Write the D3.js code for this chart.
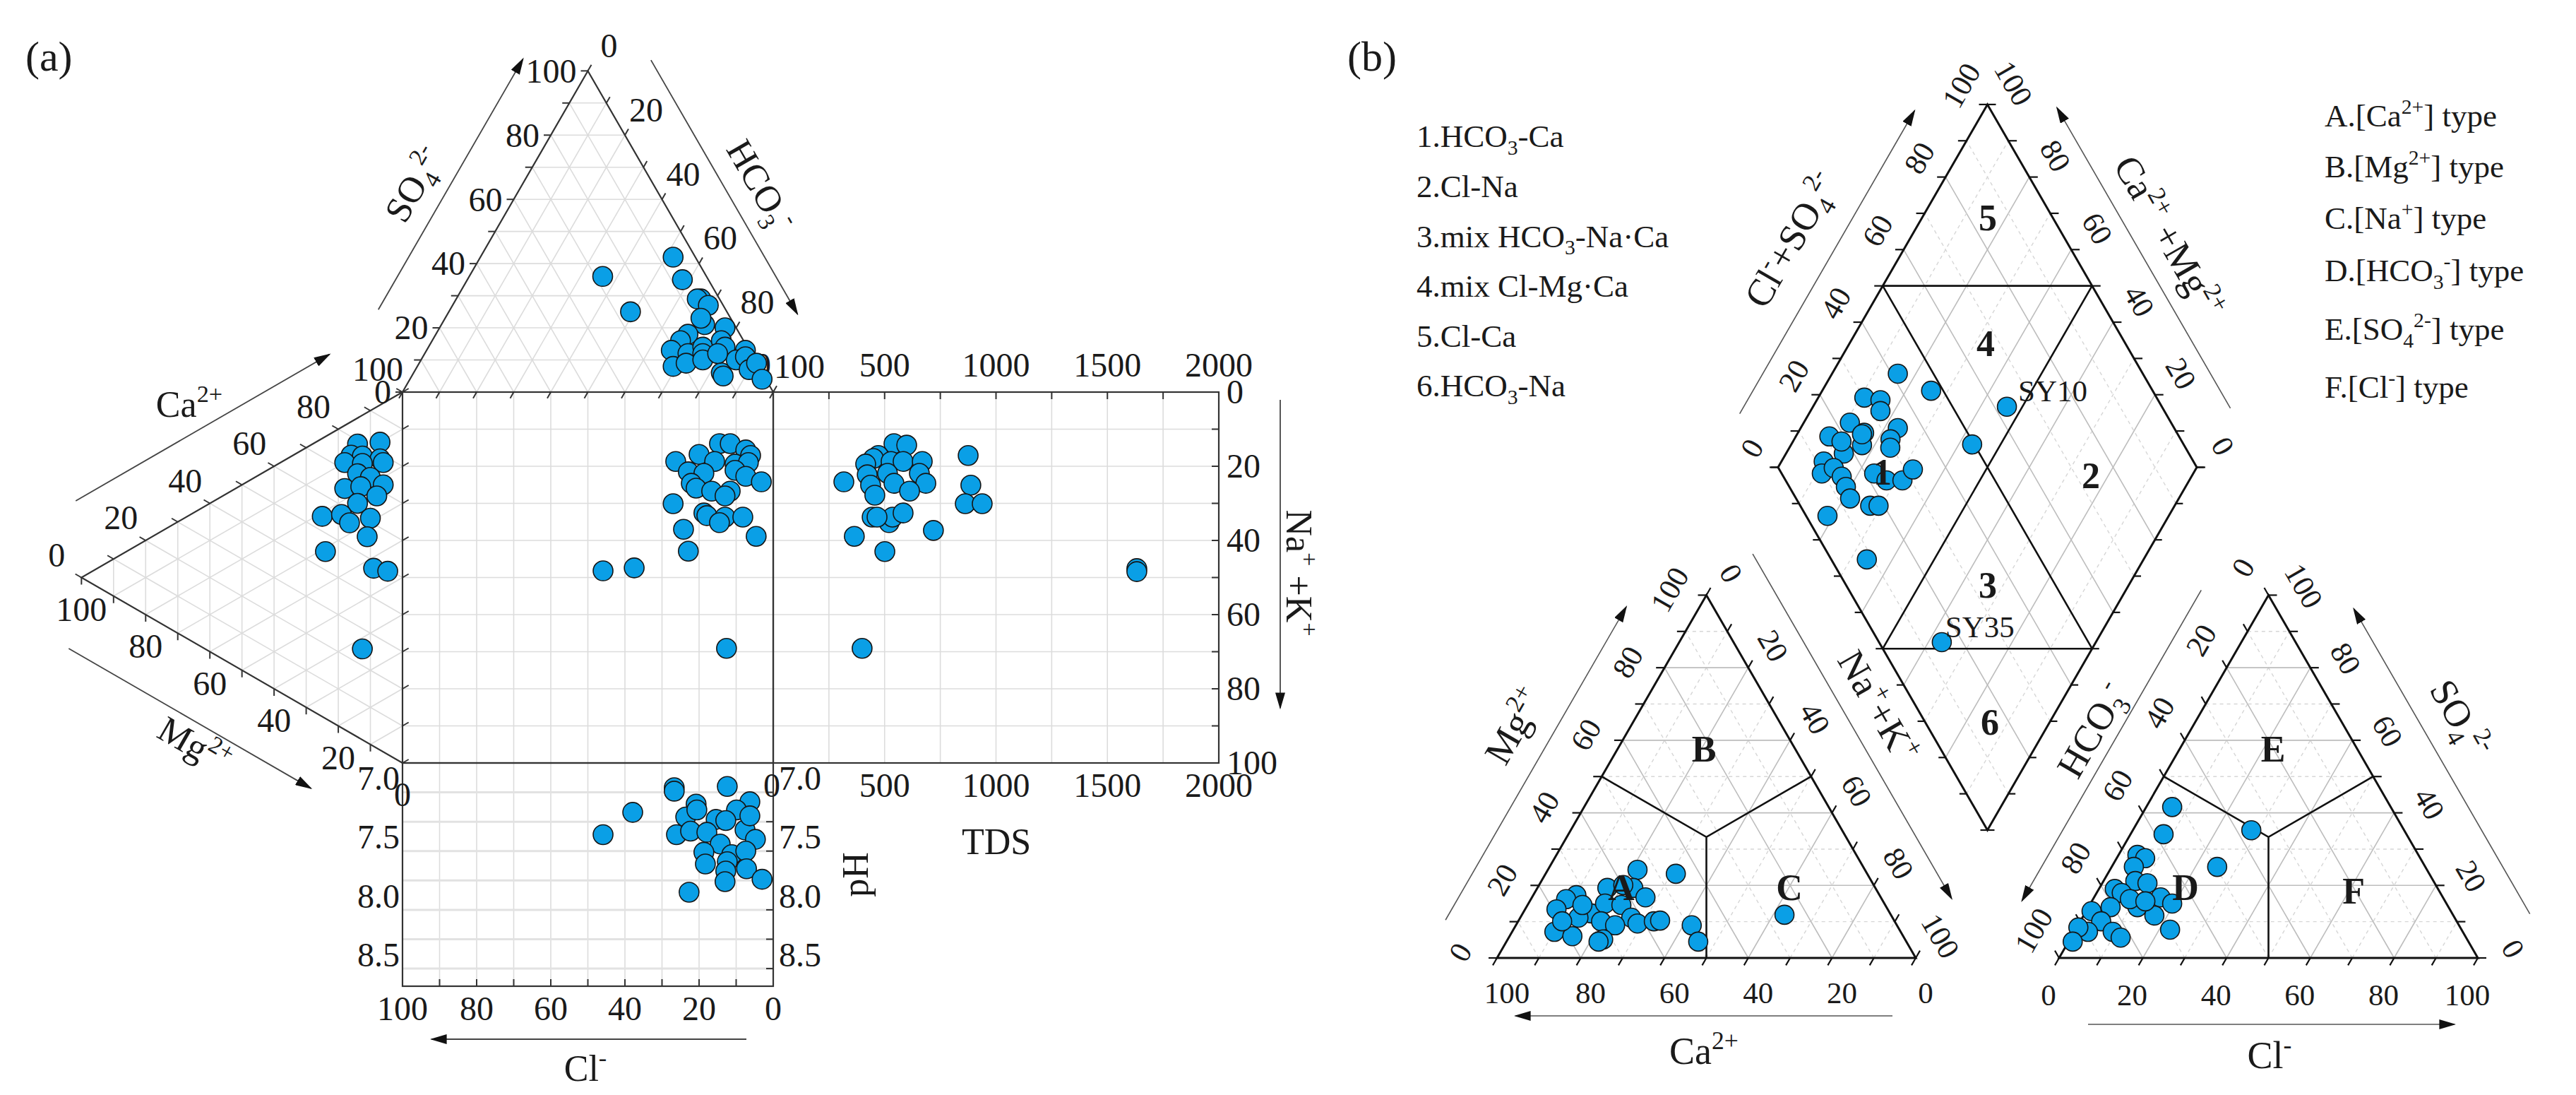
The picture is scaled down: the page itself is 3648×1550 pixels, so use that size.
<!DOCTYPE html>
<html><head><meta charset="utf-8">
<script src="https://d3js.org/d3.v7.min.js"></script>
<style>
html,body{margin:0;padding:0;background:#fff;}
svg text{font-family:"Liberation Serif","Times New Roman",Times,serif;fill:#1a1a1a;white-space:pre;}
</style></head>
<body>
<svg id="chart" width="3648" height="1550" xmlns="http://www.w3.org/2000/svg"></svg>
<script>
// ======================= DATA =======================
// Panel (a) Durov diagram
const durovAnionTri = [[42,52],[36,36],[35,58],[25,49],[29,66],[29,65],[27,69],[21,71],[18,68],[20,77],[16,67],[13,66],[12,71],[14,74],[12,75],[16,78],[14,80],[13,86],[8,69],[9,72],[10,76],[6,83],[5,84],[10,85],[11,87],[7,90],[9,91],[4,95],[12,79],[23,69]]; // [SO4, HCO3] %
const durovCationTri = [[14,7],[7,10],[16,9],[12.5,11],[7,14.5],[18,10],[12.5,13],[6,16],[14,15],[10,18],[18,17],[13,19],[6,22],[8,24],[14,23],[25,21],[19,23.5],[16.5,27],[10,29],[11,33.5],[24,31],[9,43],[4.6,46],[12.5,63]]; // [Mg, Na+K] %
const durovSquare = [[14.5,13.9],[11.6,13.9],[7.4,15.6],[6.1,17.1],[26.3,18.7],[20,16.8],[15.8,18.7],[10.3,19.4],[6.7,19],[22.9,21.5],[18.7,21.9],[10.3,21.1],[7.4,22.7],[3.2,24.2],[22.1,24.6],[20.8,25.9],[16.6,26.7],[11.6,26.7],[27,30.1],[13,28],[18.7,32.6],[17.9,33.3],[13,33.7],[14.5,35.2],[8.2,33.7],[24.2,37],[4.6,38.9],[22.9,42.9],[45.9,48.2],[37.5,47.4],[12.6,69.1]]; // [Cl, Na+K] %
const durovTDS = [[542,13.9],[599,14.3],[472,17.1],[450,17.9],[415,19.4],[529,18.7],[583,18.7],[669,18.7],[422,22.3],[513,21.9],[542,24.6],[656,21.9],[685,24.6],[612,26.7],[437,25.1],[456,27.8],[317,24.2],[444,33.7],[520,35.2],[536,33.7],[583,32.6],[466,33.7],[364,38.9],[719,37.3],[501,43],[875,17.1],[887,25.1],[862,30.1],[938,30.1],[1632,47.6],[1632,48.4],[399,69.1]]; // [TDS mg/L, Na+K %]
const durovPH = [[26.7,7.21],[26.7,7.24],[12.4,7.2],[20.8,7.35],[6.3,7.33],[9.9,7.4],[37.9,7.42],[23.6,7.46],[20.6,7.4],[15.4,7.48],[12.8,7.49],[26.1,7.61],[22.3,7.58],[17.9,7.59],[7.6,7.57],[4.8,7.65],[45.9,7.61],[14.3,7.69],[18.7,7.76],[11.2,7.78],[7.4,7.75],[18.3,7.86],[12.4,7.84],[7.2,7.9],[12.8,7.92],[13,8.01],[3,7.99],[22.7,8.1],[6.3,7.45]]; // [Cl %, pH]

// Panel (b) Piper diagram
const piperCation = [[24.3,21.4],[23.2,31.1],[19.3,16.7],[19.3,22.9],[16.7,27.1],[17.3,10.3],[16.2,8.4],[13.4,7.5],[12.3,16.3],[11.1,13.9],[15,18.3],[14.6,22.4],[11.1,26.5],[10.1,19.8],[9,23.7],[9.5,28.8],[10.1,32.4],[10.3,33.8],[7.2,10.1],[6,15],[5.1,22.8],[4.5,22],[9,42],[4.5,45.8],[11.9,62.7],[10.1,10.5],[14.6,13.1],[20.1,20.1]]; // [Mg, Na+K] %
const piperAnion = [[41.6,6.2],[34.1,7.9],[35.2,28.3],[25.1,25.2],[28.4,4.5],[27.5,6.8],[25.1,5.3],[21.2,7.6],[20.6,10.8],[19,3.8],[17.9,6],[16.7,15.9],[15,19.5],[14,11.7],[11.7,16.9],[7.8,22.6],[14,5.3],[12.9,1.3],[10.1,5],[7.2,9.2],[5.6,11.9],[7.2,3.3],[8.4,0.4],[4.5,1],[16.2,8.8],[15.6,12.8]]; // [SO4, Cl] %
const piperDiamond = [[41.5,84.3],[47.1,74],[63,53.7],[30.2,89],[33.7,84.8],[32.2,83.3],[23.3,89],[25.3,84.2],[34,76.8],[30.7,77],[16.5,92],[23.1,83],[17.6,86.2],[29.5,75.9],[11.7,89.9],[9.6,88.7],[13.2,86.6],[13.9,83.5],[22.1,76.2],[24.1,72.3],[27.9,68.5],[31.9,67.5],[13.5,81.1],[12.9,78.5],[16.7,72.7],[18.7,70.7],[5.1,81.5],[49.5,56.8],[8.5,66.1],[15,36.8],[24.6,84.5],[18.7,88.4]]; // [Cl+SO4, Ca+Mg] %
const namedSamples = [{name:'SY10', a:63, c:53.7}, {name:'SY35', a:15, c:36.8}];

const pctTicks = [0,20,40,60,80,100];
const tdsTicks = [0,500,1000,1500,2000];
const phTicks = [7.0,7.5,8.0,8.5];
const hydroTypes = [
  [['1.HCO',''],['3','sub'],['-Ca','']],
  [['2.Cl-Na','']],
  [['3.mix HCO',''],['3','sub'],['-Na\u00b7Ca','']],
  [['4.mix Cl-Mg\u00b7Ca','']],
  [['5.Cl-Ca','']],
  [['6.HCO',''],['3','sub'],['-Na','']]
];
const ionTypes = [
  [['A.[Ca',''],['2+','sup'],['] type','']],
  [['B.[Mg',''],['2+','sup'],['] type','']],
  [['C.[Na',''],['+','sup'],['] type','']],
  [['D.[HCO',''],['3','sub'],['-','sup'],['] type','']],
  [['E.[SO',''],['4','sub'],['2-','sup'],['] type','']],
  [['F.[Cl',''],['-','sup'],['] type','']]
];

// ======================= HELPERS =======================
const svg = d3.select('#chart');
const BLUE = '#0a9fe6';
const R3 = Math.sqrt(3)/2;
const defs = svg.append('defs');
defs.append('marker').attr('id','arr').attr('viewBox','0 0 10 10').attr('refX',9).attr('refY',5)
  .attr('markerWidth',24).attr('markerHeight',14).attr('markerUnits','userSpaceOnUse')
  .attr('preserveAspectRatio','none').attr('orient','auto')
  .append('path').attr('d','M0,0 L10,5 L0,10 z').attr('fill','#111');

function seg(g,p,q){ return g.append('line').attr('x1',p[0]).attr('y1',p[1]).attr('x2',q[0]).attr('y2',q[1]); }
function along(p0,p1,t,n,off){ return [p0[0]+(p1[0]-p0[0])*t+n[0]*off, p0[1]+(p1[1]-p0[1])*t+n[1]*off]; }
function arrowAlong(g,p0,p1,n,off,t0,t1,col,w){
  seg(g, along(p0,p1,t0,n,off), along(p0,p1,t1,n,off)).attr('stroke',col||'#444').attr('stroke-width',w||1.8).attr('marker-end','url(#arr)');
}
function label(g,x,y,parts,size,o={}){
  const gg = g.append('g').attr('transform',`translate(${x},${y})`+(o.rotate?` rotate(${o.rotate})`:''));
  const t = gg.append('text').attr('x',0).attr('y',size*(o.vs===undefined?0.34:o.vs)).attr('font-size',size)
    .attr('text-anchor',o.anchor||'middle');
  if(o.weight) t.attr('font-weight',o.weight);
  if(typeof parts==='string') parts=[[parts,'']];
  let shift=0;
  parts.forEach(([txt,kind])=>{
    let target=0, fs=size;
    if(kind==='sub'){target=size*0.24; fs=size*0.66;}
    else if(kind==='sup'){target=-size*0.4; fs=size*0.66;}
    const ts=t.append('tspan').attr('font-size',fs).text(txt);
    if(target!==shift) ts.attr('dy',target-shift);
    shift=target;
  });
  return t;
}
function tick(g,p,d,len){ seg(g,p,[p[0]+d[0]*len,p[1]+d[1]*len]); }
const k10 = d3.range(10,100,10);
const k0100 = d3.range(0,101,10);

// ======================= PANEL (a) =======================
const gA = svg.append('g');
const side = 525, hA = side*R3;
const xCl = d3.scaleLinear([0,100],[1095,570]);
const yNa = d3.scaleLinear([0,100],[555,1080]);
const xTDS = d3.scaleLinear([0,2000],[1095,1726]);
const yPH = d3.scaleLinear([7.0,8.9],[1080,1396]);
const txA = d3.scaleLinear([0,100],[570,1095]);
const tyA = d3.scaleLinear([0,100],[555,555-hA]);
const lxA = d3.scaleLinear([0,100],[570,570-hA]);
const topPt = (s,h)=>[txA(h+s/2), tyA(s)];
const leftPt = (m,n)=>[lxA(m), yNa(n+m/2)];
const apexTop = topPt(100,0), aTL=[570,555], aTR=[1095,555], apexLeft=leftPt(100,0), aBLc=[570,1080];

label(gA,36,80,'(a)',60,{anchor:'start'});

// grids
const gridA = gA.append('g').attr('stroke','#dcdcdc').attr('stroke-width',1.6);
k10.forEach(k=>{
  seg(gridA, topPt(k,0), topPt(k,100-k));
  seg(gridA, topPt(0,k), topPt(100-k,k));
  seg(gridA, topPt(0,100-k), topPt(100-k,0));
  seg(gridA, leftPt(k,0), leftPt(k,100-k));
  seg(gridA, leftPt(0,k), leftPt(100-k,k));
  seg(gridA, leftPt(0,100-k), leftPt(100-k,0));
  seg(gridA, [xCl(k),555],[xCl(k),1080]);
  seg(gridA, [570,yNa(k)],[1726,yNa(k)]);
  seg(gridA, [xCl(k),1080],[xCl(k),1396]);
});
d3.range(250,2000,250).forEach(v=>seg(gridA,[xTDS(v),555],[xTDS(v),1080]));
d3.range(7.25,8.9,0.25).forEach(v=>seg(gridA,[570,yPH(v)],[1095,yPH(v)]).attr('stroke','#e2e2e2').attr('stroke-width',3));

// frames
const frA = gA.append('g').attr('stroke','#333').attr('stroke-width',2.2).attr('fill','none');
frA.append('rect').attr('x',570).attr('y',555).attr('width',525).attr('height',525);
frA.append('rect').attr('x',1095).attr('y',555).attr('width',xTDS(2000)-1095).attr('height',525);
frA.append('rect').attr('x',570).attr('y',1080).attr('width',525).attr('height',yPH(8.9)-1080);
frA.append('path').attr('d',`M${aTL} L${apexTop} L${aTR}`);
frA.append('path').attr('d',`M${aTL} L${apexLeft} L${aBLc}`);

// ticks
const tkA = gA.append('g').attr('stroke','#333').attr('stroke-width',2);
k0100.forEach(k=>{
  tick(tkA, topPt(k,0), [-1,0], 10);
  tick(tkA, topPt(100-k,k), [0.5,-R3], 10);
  tick(tkA, topPt(0,k), [-0.5,R3], 10);
  tick(tkA, leftPt(100-k,0), [-R3,-0.5], 10);
  tick(tkA, leftPt(k,100-k), [0,1], 10);
  tick(tkA, leftPt(0,k), [R3,-0.5], 10);
  tick(tkA, [1726,yNa(k)], [-1,0], 10);
  tick(tkA, [xCl(k),1396], [0,-1], 10);
});
d3.range(0,2001,250).forEach(v=>tick(tkA,[xTDS(v),555],[0,1],10));
d3.range(7.0,8.9,0.25).forEach(v=>tick(tkA,[1095,yPH(v)],[-1,0],10));

// tick labels
const fsA = 48;
pctTicks.forEach(k=>{
  const p=topPt(k,0); label(gA,p[0]-16,p[1],String(k),fsA,{anchor:'end'});
  if(k<100){const q=topPt(100-k,k); label(gA,q[0]+30,q[1]-36,String(k),fsA);}
  const c=leftPt(100-k,0); label(gA,c[0]-35,c[1]-32,String(k),fsA);
  const m=leftPt(k,100-k); label(gA,m[0],m[1]+45,String(k),fsA);
  label(gA,1737,yNa(k),String(k),fsA,{anchor:'start'});
  label(gA,xCl(k),1428,String(k),fsA);
});
label(gA,1132,519,'100',fsA);
tdsTicks.forEach(v=>{
  if(v>0) label(gA,xTDS(v),517,String(v),fsA);
  label(gA,xTDS(v)-(v===0?2:0),1112,String(v),fsA);
});
label(gA,1080,517,'0',fsA);
phTicks.forEach(v=>{
  label(gA,1103,yPH(v)+22,v.toFixed(1),fsA,{anchor:'start'});
  label(gA,566,yPH(v)+22,v.toFixed(1),fsA,{anchor:'end'});
});

// axis arrows & titles
const axA = gA.append('g');
arrowAlong(axA, aTL, apexTop, [-R3,-0.5], 88, 0.16, 0.94);
arrowAlong(axA, apexTop, aTR, [R3,-0.5], 85, 0.06, 0.85);
arrowAlong(axA, apexLeft, aTL, [-0.5,-R3], 98, 0.09, 0.88);
arrowAlong(axA, apexLeft, aBLc, [-0.5,R3], 96, 0.066, 0.82);
seg(axA,[1813,566],[1813,1002]).attr('stroke','#444').attr('stroke-width',1.8).attr('marker-end','url(#arr)');
seg(axA,[1057,1471],[611,1471]).attr('stroke','#444').attr('stroke-width',1.8).attr('marker-end','url(#arr)');
const fsT = 52;
let p;
p=along(aTL,apexTop,0.5,[-R3,-0.5],133); label(gA,p[0],p[1],[['SO',''],['4','sub'],['2-','sup']],fsT,{rotate:-60});
p=along(apexTop,aTR,0.5,[R3,-0.5],131); label(gA,p[0],p[1],[['HCO',''],['3','sub'],['-','sup']],fsT,{rotate:60});
label(gA,268,572,[['Ca',''],['2+','sup']],fsT);
p=along(apexLeft,aBLc,0.49,[-0.5,R3],125); label(gA,p[0],p[1],[['Mg',''],['2+','sup']],fsT,{rotate:30});
label(gA,1840,811,[['Na',''],['+','sup'],[' +K',''],['+','sup']],fsT,{rotate:90});
label(gA,1211,1238,'pH',fsT,{rotate:-90});
label(gA,1411,1191,'TDS',fsT);
label(gA,829,1512,[['Cl',''],['-','sup']],fsT);

// points
const ptA = gA.append('g').attr('fill',BLUE).attr('stroke','#151515').attr('stroke-width',1.6);
const rA = 14;
durovAnionTri.forEach(([s,h])=>{const q=topPt(s,h); ptA.append('circle').attr('cx',q[0]).attr('cy',q[1]).attr('r',rA);});
durovCationTri.forEach(([m,n])=>{const q=leftPt(m,n); ptA.append('circle').attr('cx',q[0]).attr('cy',q[1]).attr('r',rA);});
durovSquare.forEach(([c,n])=>ptA.append('circle').attr('cx',xCl(c)).attr('cy',yNa(n)).attr('r',rA));
durovTDS.forEach(([t,n])=>ptA.append('circle').attr('cx',xTDS(t)).attr('cy',yNa(n)).attr('r',rA));
durovPH.forEach(([c,v])=>ptA.append('circle').attr('cx',xCl(c)).attr('cy',yPH(v)).attr('r',rA));

// ======================= PANEL (b) =======================
const gB = svg.append('g');
const sB = 593, hB = sB*R3;
const cxB = d3.scaleLinear([0,100],[2120,2120+sB]);
const axB = d3.scaleLinear([0,100],[2916,2916+sB]);
const cyB = d3.scaleLinear([0,100],[1356,1356-hB]);
const dxB = d3.scaleLinear([-100,100],[2814.5-sB/2,2814.5+sB/2]);
const dyB = d3.scaleLinear([0,200],[1175,1175-2*hB]);
const catPt=(m,n)=>[cxB(n+m/2), cyB(m)];
const anPt=(s,c)=>[axB(c+s/2), cyB(s)];
const diaPt=(a,c)=>[dxB(a-c), dyB(a+c)];
const cBL=catPt(0,0), cBR=catPt(0,100), cAP=catPt(100,0);
const aBL=anPt(0,0), aBR=anPt(0,100), aAP=anPt(100,0);
const dL=diaPt(0,100), dT=diaPt(100,100), dR=diaPt(100,0), dB=diaPt(0,0);

label(gB,1908,80,'(b)',60,{anchor:'start'});

// grids
const gridB = gB.append('g').attr('fill','none');
function gline(p,q,k){ const l=seg(gridB,p,q); if(k%20===0) l.attr('stroke','#bdbdbd').attr('stroke-width',1.6); else l.attr('stroke','#d6d6d6').attr('stroke-width',1.4).attr('stroke-dasharray','5,5'); }
k10.forEach(k=>{
  gline(catPt(k,0),catPt(k,100-k),k); gline(catPt(0,k),catPt(100-k,k),k); gline(catPt(0,100-k),catPt(100-k,0),k);
  gline(anPt(k,0),anPt(k,100-k),k); gline(anPt(0,k),anPt(100-k,k),k); gline(anPt(0,100-k),anPt(100-k,0),k);
  gline(diaPt(k,0),diaPt(k,100),k); gline(diaPt(0,k),diaPt(100,k),k);
});

// region lines
const regB = gB.append('g').attr('stroke','#111').attr('stroke-width',2.6).attr('fill','none');
const cc = catPt(100/3,100/3);
regB.append('path').attr('d',`M${catPt(50,0)} L${cc} L${catPt(50,50)} M${cc} L${catPt(0,50)}`);
const ac = anPt(100/3,100/3);
regB.append('path').attr('d',`M${anPt(50,0)} L${ac} L${anPt(50,50)} M${ac} L${anPt(0,50)}`);
regB.append('path').attr('d',`M${diaPt(50,0)} L${diaPt(50,100)} M${diaPt(0,50)} L${diaPt(100,50)} M${diaPt(50,100)} L${diaPt(100,50)} M${diaPt(0,50)} L${diaPt(50,0)}`);

// edges
const edB = gB.append('g').attr('stroke','#111').attr('stroke-width',3).attr('fill','none');
edB.append('path').attr('d',`M${cBL} L${cAP} L${cBR} Z`);
edB.append('path').attr('d',`M${aBL} L${aAP} L${aBR} Z`);
edB.append('path').attr('d',`M${dL} L${dT} L${dR} L${dB} Z`);

// ticks
const tkB = gB.append('g').attr('stroke','#111').attr('stroke-width',2.2);
k0100.forEach(k=>{
  tick(tkB, catPt(0,100-k), [-0.5,R3], 12);
  tick(tkB, catPt(k,0), [-1,0], 12);
  tick(tkB, catPt(100-k,k), [0.5,-R3], 12);
  tick(tkB, anPt(0,k), [-0.5,R3], 12);
  tick(tkB, anPt(100-k,0), [-0.5,-R3], 12);
  tick(tkB, anPt(k,100-k), [1,0], 12);
  tick(tkB, diaPt(k,100), [-1,0], 12);
  tick(tkB, diaPt(100,k), [1,0], 12);
  tick(tkB, diaPt(0,k), [-1,0], 10);
  tick(tkB, diaPt(k,0), [1,0], 10);
});

// tick labels
const fsB = 43;
pctTicks.forEach(k=>{
  label(gB, cxB(100-k)+14, 1405, String(k), fsB);
  let q=catPt(k,0); label(gB,q[0]-52,q[1]-8,String(k),fsB,{rotate:-60});
  q=catPt(100-k,k); label(gB,q[0]+35,q[1]-31,String(k),fsB,{rotate:60});
  label(gB, axB(k)-15, 1408, String(k), fsB);
  q=anPt(100-k,0); label(gB,q[0]-36,q[1]-39,String(k),fsB,{rotate:-60});
  q=anPt(k,100-k); label(gB,q[0]+50,q[1]-13,String(k),fsB,{rotate:60});
  q=diaPt(k,100); label(gB,q[0]-37,q[1]-27,String(k),fsB,{rotate:-60});
  q=diaPt(100,k); label(gB,q[0]+37,q[1]-30,String(k),fsB,{rotate:60});
});

// axis arrows & titles
const axB2 = gB.append('g');
arrowAlong(axB2, cBL, cAP, [-R3,-0.5], 90, 0.017, 0.88, '#555', 1.6);
arrowAlong(axB2, cAP, cBR, [R3,-0.5], 86, -0.03, 0.92, '#555', 1.6);
seg(axB2,[2680,1438],[2146,1438]).attr('stroke','#555').attr('stroke-width',1.6).attr('marker-end','url(#arr)');
arrowAlong(axB2, aBL, aAP, [-R3,-0.5], 86, 0.93, 0.074, '#555', 1.6);
arrowAlong(axB2, aBR, aAP, [R3,-0.5], 95, 0.029, 0.87, '#555', 1.6);
seg(axB2,[2957,1450],[3476,1450]).attr('stroke','#555').attr('stroke-width',1.6).attr('marker-end','url(#arr)');
arrowAlong(axB2, dL, dT, [-R3,-0.5], 85, 0.065, 0.90, '#555', 1.6);
arrowAlong(axB2, dR, dT, [R3,-0.5], 83, 0.082, 0.91, '#555', 1.6);
const fsTB = 54;
p=along(cBL,cAP,0.5,[-R3,-0.5],143); label(gB,p[0],p[1],[['Mg',''],['2+','sup']],fsTB,{rotate:-60});
p=along(cAP,cBR,0.435,[R3,-0.5],132); label(gB,p[0],p[1],[['Na',''],['+','sup'],['+K',''],['+','sup']],fsTB,{rotate:60});
label(gB,2413,1488,[['Ca',''],['2+','sup']],fsTB);
p=along(aBL,aAP,0.51,[-R3,-0.5],121); label(gB,p[0],p[1],[['HCO',''],['3','sub'],['-','sup']],fsTB,{rotate:-60});
p=along(aBR,aAP,0.516,[R3,-0.5],148); label(gB,p[0],p[1],[['SO',''],['4','sub'],['2-','sup']],fsTB,{rotate:60});
label(gB,3214,1494,[['Cl',''],['-','sup']],fsTB);
p=along(dL,dT,0.486,[-R3,-0.5],145); label(gB,p[0],p[1],[['Cl',''],['-','sup'],['+SO',''],['4','sub'],['2-','sup']],fsTB,{rotate:-60});
p=along(dR,dT,0.51,[R3,-0.5],129); label(gB,p[0],p[1],[['Ca',''],['2+','sup'],[' +Mg',''],['2+','sup']],fsTB,{rotate:60});

// points
const ptB = gB.append('g').attr('fill',BLUE).attr('stroke','#151515').attr('stroke-width',1.6);
const rB = 13.5;
piperCation.forEach(([m,n])=>{const q=catPt(m,n); ptB.append('circle').attr('cx',q[0]).attr('cy',q[1]).attr('r',rB);});
piperAnion.forEach(([s,c])=>{const q=anPt(s,c); ptB.append('circle').attr('cx',q[0]).attr('cy',q[1]).attr('r',rB);});
piperDiamond.forEach(([a,c])=>{const q=diaPt(a,c); ptB.append('circle').attr('cx',q[0]).attr('cy',q[1]).attr('r',rB);});
namedSamples.forEach(s=>{const q=diaPt(s.a,s.c); label(gB,q[0]+(s.name==='SY10'?16:5),q[1]-22,s.name,43,{anchor:'start'});});

// region labels (drawn over points, as in the reference)
const fsR = 52;
[['A',2296,1256],['B',2413,1060],['C',2534,1256],['D',3095,1256],['E',3219,1060],['F',3333,1261],
 ['5',2815,308],['4',2812,486],['1',2666,668],['2',2961,673],['3',2815,828],['6',2818,1022]]
 .forEach(([t,x,y])=>label(gB,x,y,t,fsR,{weight:'bold'}));

// legends
hydroTypes.forEach((parts,i)=>label(gB,2006,193+i*70.6,parts,45,{anchor:'start'}));
const ionY=[164,236,309,383,466,548];
ionTypes.forEach((parts,i)=>label(gB,3292,ionY[i],parts,45,{anchor:'start'}));
</script>
</body></html>
